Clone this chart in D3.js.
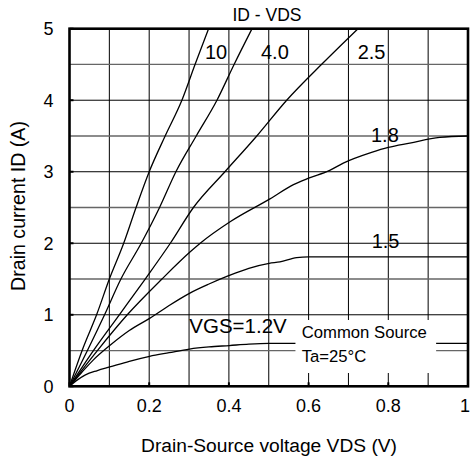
<!DOCTYPE html>
<html><head><meta charset="utf-8">
<script src="https://cdn.jsdelivr.net/npm/d3@7"></script>
<style>html,body{margin:0;padding:0;background:#fff;}svg{display:block;font-family:"Liberation Sans",Arial,sans-serif;}</style>
</head><body>
<svg id="c" width="471" height="461"></svg>
<script>
// Data (VDS in V, ID in A)
const vgsLabels = ["10", "4.0", "2.5", "1.8", "1.5", "VGS=1.2V"];
const vds10 = [0, 0.035, 0.068, 0.1, 0.136, 0.167, 0.2, 0.24, 0.282, 0.315, 0.349];
const id10  = [0, 0.55, 1.0, 1.5, 2.0, 2.5, 3.0, 3.5, 4.0, 4.5, 5.0];
const vds40 = [0, 0.045, 0.088, 0.129, 0.18, 0.226, 0.267, 0.318, 0.37, 0.413, 0.458];
const id40  = [0, 0.5, 1.0, 1.5, 2.0, 2.5, 3.0, 3.5, 4.0, 4.5, 5.0];
const vds25 = [0, 0.06, 0.125, 0.19, 0.253, 0.311, 0.39, 0.47, 0.545, 0.636, 0.724];
const id25  = [0, 0.5, 1.0, 1.5, 2.0, 2.5, 3.0, 3.5, 4.0, 4.52, 5.0];
const vds18 = [0, 0.07, 0.145, 0.232, 0.303, 0.328, 0.403, 0.503, 0.562, 0.6, 0.653, 0.687, 0.758, 0.8, 0.854, 0.929, 1.0];
const id18  = [0, 0.5, 1.0, 1.5, 1.88, 2.0, 2.30, 2.62, 2.82, 2.91, 3.02, 3.12, 3.27, 3.34, 3.40, 3.48, 3.50];
const vds15 = [0, 0.03, 0.06, 0.101, 0.15, 0.201, 0.25, 0.301, 0.35, 0.401, 0.45, 0.501, 0.528, 0.57, 0.6, 1.0];
const id15  = [0, 0.19, 0.37, 0.57, 0.78, 0.95, 1.13, 1.30, 1.43, 1.55, 1.65, 1.72, 1.74, 1.80, 1.81, 1.81];
const vds12 = [0, 0.02, 0.04, 0.07, 0.101, 0.15, 0.201, 0.25, 0.301, 0.35, 0.401, 0.45, 0.5, 0.6, 1.0];
const id12  = [0, 0.09, 0.16, 0.22, 0.27, 0.35, 0.42, 0.47, 0.52, 0.55, 0.57, 0.59, 0.60, 0.60, 0.60];
const xTicks = [0, 0.2, 0.4, 0.6, 0.8, 1];
const xTickLabels = ["0", "0.2", "0.4", "0.6", "0.8", "1"];
const yTicks = [0, 1, 2, 3, 4, 5];
const title = "ID - VDS";
const xTitle = "Drain-Source voltage VDS (V)";
const yTitle = "Drain current ID (A)";
const noteLines = ["Common Source", "Ta=25°C"];

const svg = d3.select("#c");
const L = 69.5, R = 468, T = 28.7, B = 386.3;
const x = d3.scaleLinear().domain([0, 1]).range([L, R]);
const y = d3.scaleLinear().domain([0, 5]).range([B, T]);

svg.append("defs").append("clipPath").attr("id", "plot")
  .append("rect").attr("x", L).attr("y", T).attr("width", R - L).attr("height", B - T);

// grid
const g = svg.append("g");
d3.range(1, 10).forEach(i => {
  const v = i / 10;
  g.append("line").attr("x1", x(v)).attr("x2", x(v)).attr("y1", T).attr("y2", B)
    .attr("stroke", "#000").attr("stroke-width", 1);
});
d3.range(1, 10).forEach(i => {
  const v = i / 2;
  g.append("line").attr("x1", L).attr("x2", R).attr("y1", y(v)).attr("y2", y(v))
    .attr("stroke", i % 2 ? "#666" : "#000").attr("stroke-width", i % 2 ? 1.3 : 1);
});

// curves
const series = [[vds10, id10], [vds40, id40], [vds25, id25], [vds18, id18], [vds15, id15], [vds12, id12]];
const line = d3.line().x(d => x(d[0])).y(d => y(d[1])).curve(d3.curveMonotoneX);
const cg = svg.append("g").attr("clip-path", "url(#plot)");
series.forEach(s => {
  const pts = s[0].map((v, i) => [v, s[1][i]]);
  cg.append("path").attr("d", line(pts)).attr("fill", "none")
    .attr("stroke", "#000").attr("stroke-width", 1.3);
});

// note box (white, hides grid and curve)
svg.append("rect").attr("x", x(0.567)).attr("y", 320).attr("width", x(0.92) - x(0.567)).attr("height", 53)
  .attr("fill", "#fff");
svg.append("text").attr("x", 301.7).attr("y", 338.3).attr("font-size", 16.7).text(noteLines[0]);
svg.append("text").attr("x", 301.7).attr("y", 361.7).attr("font-size", 16.7).text(noteLines[1]);

// frame and ticks
svg.append("rect").attr("x", L).attr("y", T).attr("width", R - L).attr("height", B - T)
  .attr("fill", "none").attr("stroke", "#000").attr("stroke-width", 2.6);
yTicks.forEach(v => {
  svg.append("line").attr("x1", L).attr("x2", L + 4).attr("y1", y(v)).attr("y2", y(v))
    .attr("stroke", "#000").attr("stroke-width", 2);
});
xTicks.forEach(v => {
  svg.append("line").attr("x1", x(v)).attr("x2", x(v)).attr("y1", B).attr("y2", B - 4)
    .attr("stroke", "#000").attr("stroke-width", 2);
});

// tick labels
yTicks.forEach(v => {
  svg.append("text").attr("x", 53.5).attr("y", y(v)).attr("dy", "0.36em")
    .attr("text-anchor", "end").attr("font-size", 18).text(String(v));
});
xTicks.forEach((v, i) => {
  svg.append("text").attr("x", Math.min(x(v), 465)).attr("y", 412).attr("text-anchor", "middle")
    .attr("font-size", 18).text(xTickLabels[i]);
});

// titles
svg.append("text").attr("x", 267).attr("y", 21).attr("text-anchor", "middle").attr("font-size", 17.5).text(title);
svg.append("text").attr("x", 269).attr("y", 451.7).attr("text-anchor", "middle").attr("font-size", 19.2).text(xTitle);
svg.append("text").attr("transform", "translate(25,206) rotate(-90)").attr("text-anchor", "middle")
  .attr("font-size", 19.6).text(yTitle);

// curve labels
const labelPos = [[205, 59], [261, 59], [357.7, 59], [371, 142.3], [371.7, 247.7], [189.3, 333.3]];
vgsLabels.forEach((t, i) => {
  svg.append("text").attr("x", labelPos[i][0]).attr("y", labelPos[i][1])
    .attr("font-size", i === 5 ? 20.5 : 20).text(t);
});
</script>
</body></html>
